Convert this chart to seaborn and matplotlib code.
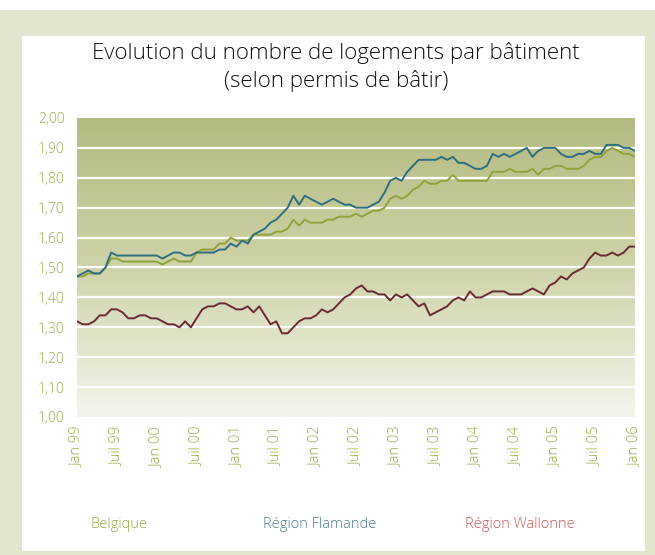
import numpy as np
import pandas as pd
import matplotlib
matplotlib.use("Agg")
import matplotlib.pyplot as plt
import seaborn as sns
from matplotlib.colors import LinearSegmentedColormap
from matplotlib.patches import Rectangle

# values (logements par bâtiment)
belgique = [1.47, 1.47, 1.48, 1.48, 1.48, 1.50, 1.53, 1.53, 1.52, 1.52,
            1.52, 1.52, 1.52, 1.52, 1.52, 1.51, 1.52, 1.53, 1.52, 1.52,
            1.52, 1.55, 1.56, 1.56, 1.56, 1.58, 1.58, 1.60, 1.59, 1.59,
            1.59, 1.61, 1.61, 1.61, 1.61, 1.62, 1.62, 1.63, 1.66, 1.64,
            1.66, 1.65, 1.65, 1.65, 1.66, 1.66, 1.67, 1.67, 1.67, 1.68,
            1.67, 1.68, 1.69, 1.69, 1.70, 1.73, 1.74, 1.73, 1.74, 1.76,
            1.77, 1.79, 1.78, 1.78, 1.79, 1.79, 1.81, 1.79, 1.79, 1.79,
            1.79, 1.79, 1.79, 1.82, 1.82, 1.82, 1.83, 1.82, 1.82, 1.82,
            1.83, 1.81, 1.83, 1.83, 1.84, 1.84, 1.83, 1.83, 1.83, 1.84,
            1.86, 1.87, 1.87, 1.89, 1.90, 1.89, 1.88, 1.88, 1.87]

flamande = [1.47, 1.48, 1.49, 1.48, 1.48, 1.50, 1.55, 1.54, 1.54, 1.54,
            1.54, 1.54, 1.54, 1.54, 1.54, 1.53, 1.54, 1.55, 1.55, 1.54,
            1.54, 1.55, 1.55, 1.55, 1.55, 1.56, 1.56, 1.58, 1.57, 1.59,
            1.58, 1.61, 1.62, 1.63, 1.65, 1.66, 1.68, 1.70, 1.74, 1.71,
            1.74, 1.73, 1.72, 1.71, 1.72, 1.73, 1.72, 1.71, 1.71, 1.70,
            1.70, 1.70, 1.71, 1.72, 1.75, 1.79, 1.80, 1.79, 1.82, 1.84,
            1.86, 1.86, 1.86, 1.86, 1.87, 1.86, 1.87, 1.85, 1.85, 1.84,
            1.83, 1.83, 1.84, 1.88, 1.87, 1.88, 1.87, 1.88, 1.89, 1.90,
            1.87, 1.89, 1.90, 1.90, 1.90, 1.88, 1.87, 1.87, 1.88, 1.88,
            1.89, 1.88, 1.88, 1.91, 1.91, 1.91, 1.90, 1.90, 1.89]

wallonne = [1.32, 1.31, 1.31, 1.32, 1.34, 1.34, 1.36, 1.36, 1.35, 1.33,
            1.33, 1.34, 1.34, 1.33, 1.33, 1.32, 1.31, 1.31, 1.30, 1.32,
            1.30, 1.33, 1.36, 1.37, 1.37, 1.38, 1.38, 1.37, 1.36, 1.36,
            1.37, 1.35, 1.37, 1.34, 1.31, 1.32, 1.28, 1.28, 1.30, 1.32,
            1.33, 1.33, 1.34, 1.36, 1.35, 1.36, 1.38, 1.40, 1.41, 1.43,
            1.44, 1.42, 1.42, 1.41, 1.41, 1.39, 1.41, 1.40, 1.41, 1.39,
            1.37, 1.38, 1.34, 1.35, 1.36, 1.37, 1.39, 1.40, 1.39, 1.42,
            1.40, 1.40, 1.41, 1.42, 1.42, 1.42, 1.41, 1.41, 1.41, 1.42,
            1.43, 1.42, 1.41, 1.44, 1.45, 1.47, 1.46, 1.48, 1.49, 1.50,
            1.53, 1.55, 1.54, 1.54, 1.55, 1.54, 1.55, 1.57, 1.57]

tick_labels = ["Jan 99", "Juil 99", "Jan 00", "Juil 00", "Jan 01", "Juil 01",
               "Jan 02", "Juil 02", "Jan 03", "Juil 03", "Jan 04", "Juil 04",
               "Jan 05", "Juil 05", "Jan 06"]
series_names = ["Belgique", "Région Flamande", "Région Wallonne"]
line_colors = ["#8fa23c", "#2f6e80", "#6a2a30"]
label_colors = ["#9aab4a", "#4d7f8d", "#c9585b"]

n = len(belgique)
df = pd.DataFrame({
    "idx": list(range(n)) * 3,
    "valeur": belgique + flamande + wallonne,
    "serie": [s for s in series_names for _ in range(n)],
})

sns.set_theme(style="white")
plt.rcParams["font.family"] = ["Open Sans", "DejaVu Sans"]

W, H = 655, 555
fig = plt.figure(figsize=(W / 100, H / 100), dpi=100)
fig.patch.set_facecolor("white")
# outer frame and white card
fig.patches.append(Rectangle((0, 0), 1, 1 - 10 / H, transform=fig.transFigure,
                             facecolor="#e3e6cf", edgecolor="none", zorder=0))
fig.patches.append(Rectangle((22 / W, 4 / H), 623 / W, 1 - 36 / H - 4 / H,
                             transform=fig.transFigure, facecolor="white",
                             edgecolor="none", zorder=1))

ax = fig.add_axes([77 / W, 1 - 417 / H, 558 / W, 299 / H])
ax.set_zorder(2)

# gradient background
cmap = LinearSegmentedColormap.from_list("bg", ["#b3ba80", "#cfd3a8", "#f4f4ec"])
ax.imshow(np.linspace(0, 1, 256).reshape(-1, 1), extent=[0, n - 1, 1.0, 2.0],
          aspect="auto", cmap=cmap, zorder=0)
for y in np.arange(1.1, 1.95, 0.1):
    ax.axhline(y, color="white", lw=1.6, zorder=1)

sns.lineplot(data=df, x="idx", y="valeur", hue="serie", palette=line_colors,
             linewidth=1.4, legend=False, ax=ax, zorder=3)

ax.set_xlim(0, n - 1)
ax.set_ylim(1.0, 2.0)
ax.set_xticks(range(0, n, 7))
ax.set_xticklabels(tick_labels, rotation=90, color="#9aab4a", fontsize=10.5,
                   fontweight="light")
yt = np.round(np.arange(1.0, 2.01, 0.1), 2)
ax.set_yticks(yt)
ax.set_yticklabels([f"{v:.2f}".replace(".", ",") for v in yt],
                   color="#9aab4a", fontsize=10, fontweight="light")
ax.tick_params(axis="x", length=0, pad=7)
ax.tick_params(axis="y", length=0, pad=9)
ax.set_xlabel("")
ax.set_ylabel("")
for s in ax.spines.values():
    s.set_visible(False)

fig.text(336 / W, 1 - 53 / H, "Evolution du nombre de logements par bâtiment",
         ha="center", va="center", fontsize=16, fontweight="light",
         color="#111111")
fig.text(336 / W, 1 - 81 / H, "(selon permis de bâtir)",
         ha="center", va="center", fontsize=16, fontweight="light",
         color="#111111")

for name, col, x0 in zip(series_names, label_colors, [90, 263, 465]):
    fig.text(x0 / W, 1 - 525 / H, name, ha="left", va="center",
             fontsize=10.5, fontweight="light", color=col)

fig.savefig("out.png", dpi=100)
